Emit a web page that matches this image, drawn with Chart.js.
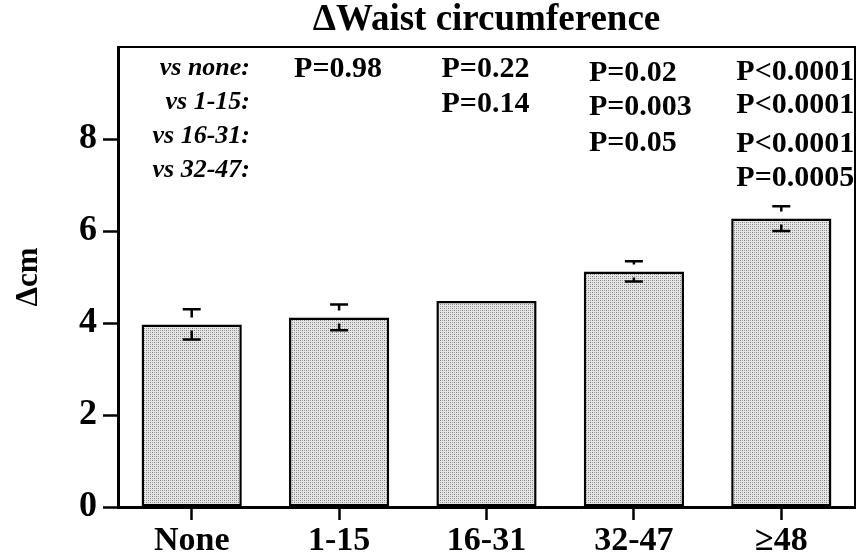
<!DOCTYPE html>
<html>
<head>
<meta charset="utf-8">
<script src="https://cdn.jsdelivr.net/npm/chart.js@4"></script>
<style>
  html, body { margin: 0; padding: 0; background: #fff; }
  #wrap { width: 857px; height: 560px; }
</style>
</head>
<body>
<div id="wrap"><canvas id="chart1" width="857" height="560"></canvas></div>
<script>
var categories = ['None', '1-15', '16-31', '32-47', '≥48'];
var waistChange = [3.97, 4.12, 4.48, 5.12, 6.27];
var waistSem = [0.33, 0.28, null, 0.22, 0.27];
var yTicks = [0, 2, 4, 6, 8];
var vsLabels = ['vs none:', 'vs 1-15:', 'vs 16-31:', 'vs 32-47:'];
var pValues = [
    [],
    ['P=0.98'],
    ['P=0.22', 'P=0.14'],
    ['P=0.02', 'P=0.003', 'P=0.05'],
    ['P<0.0001', 'P<0.0001', 'P<0.0001', 'P=0.0005']
];

var serif = "'Liberation Serif', 'Times New Roman', serif";

// stippled grey fill like the original bars
function makePattern() {
    var c = document.createElement('canvas');
    c.width = 4; c.height = 4;
    var g = c.getContext('2d');
    g.fillStyle = '#e6e6e6';
    g.fillRect(0, 0, 4, 4);
    g.fillStyle = '#7a7a7a';
    g.fillRect(0, 0, 1, 1);
    g.fillRect(2, 2, 1, 1);
    g.fillStyle = '#a8a8a8';
    g.fillRect(0, 2, 1, 1);
    g.fillRect(2, 0, 1, 1);
    return g.createPattern(c, 'repeat');
}

var extras = {
    id: 'extras',
    afterDatasetsDraw: function(chart) {
        var ctx = chart.ctx;
        var area = chart.chartArea;
        var xs = chart.scales.x, ys = chart.scales.y;
        ctx.save();

        // frame top + right
        ctx.strokeStyle = '#000';
        ctx.lineWidth = 2;
        ctx.beginPath();
        ctx.moveTo(area.left, area.top);
        ctx.lineTo(area.right, area.top);
        ctx.lineTo(area.right, area.bottom);
        ctx.stroke();

        // error bars (split T shapes)
        ctx.lineWidth = 2.5;
        for (var i = 0; i < waistChange.length; i++) {
            if (waistSem[i] == null) continue;
            var x = xs.getPixelForValue(i);
            var top = ys.getPixelForValue(waistChange[i]);
            var hi = ys.getPixelForValue(waistChange[i] + waistSem[i]);
            var lo = ys.getPixelForValue(waistChange[i] - waistSem[i]);
            ctx.beginPath();
            ctx.moveTo(x - 9, hi); ctx.lineTo(x + 9, hi);
            ctx.moveTo(x, hi); ctx.lineTo(x, Math.max(hi, top - 7));
            ctx.moveTo(x - 9, lo); ctx.lineTo(x + 9, lo);
            ctx.moveTo(x, lo); ctx.lineTo(x, Math.min(lo, top + 6));
            ctx.stroke();
        }

        // title
        ctx.fillStyle = '#000';
        ctx.textBaseline = 'middle';
        ctx.textAlign = 'center';
        ctx.font = 'bold 37px ' + serif;
        ctx.fillText('ΔWaist circumference', (area.left + area.right) / 2, 20);

        // comparison labels
        ctx.textAlign = 'right';
        ctx.font = 'italic bold 26px ' + serif;
        var vsY = [68, 102, 136, 170];
        vsLabels.forEach(function(t, k) { ctx.fillText(t, 250, vsY[k]); });

        ctx.textAlign = 'left';
        ctx.font = 'bold 30px ' + serif;
        var rowY = [
            [],
            [69],
            [69, 104],
            [73, 107, 143],
            [72, 105, 144, 178]
        ];
        pValues.forEach(function(list, i) {
            var x = xs.getPixelForValue(i) - 45;
            list.forEach(function(t, k) { ctx.fillText(t, x, rowY[i][k]); });
        });
        ctx.restore();
    }
};

var ctx1 = document.getElementById('chart1').getContext('2d');
var chart1 = new Chart(ctx1, {
    type: 'bar',
    data: {
        labels: categories,
        datasets: [{
            label: 'ΔWaist circumference',
            data: waistChange,
            backgroundColor: makePattern(),
            borderColor: '#000',
            borderWidth: 2.5,
            borderSkipped: false,
            categoryPercentage: 1,
            barPercentage: 0.68
        }]
    },
    options: {
        responsive: false,
        animation: false,
        layout: { padding: { top: 47, right: 2, left: 0, bottom: 0 } },
        plugins: {
            legend: { display: false },
            tooltip: { enabled: false }
        },
        scales: {
            x: {
                afterFit: function(s) { s.height = 53; },
                grid: { drawOnChartArea: false, tickLength: 13, tickWidth: 2.5, tickColor: '#000', offset: false },
                border: { display: true, color: '#000', width: 3 },
                ticks: {
                    color: '#000',
                    padding: 4,
                    font: { family: serif, size: 34, weight: 'bold', lineHeight: 1 }
                }
            },
            y: {
                min: 0,
                max: 10,
                afterFit: function(s) { s.width = 118; },
                afterBuildTicks: function(s) { s.ticks = yTicks.map(function(v) { return { value: v }; }); },
                grid: { drawOnChartArea: false, tickLength: 15, tickWidth: 2.5, tickColor: '#000' },
                border: { display: true, color: '#000', width: 3 },
                ticks: {
                    color: '#000',
                    padding: 6,
                    font: { family: serif, size: 36, weight: 'bold' }
                },
                title: {
                    display: true,
                    text: 'Δcm',
                    color: '#000',
                    padding: 10,
                    font: { family: serif, size: 31, weight: 'bold' }
                }
            }
        }
    },
    plugins: [extras]
});
</script>
</body>
</html>
